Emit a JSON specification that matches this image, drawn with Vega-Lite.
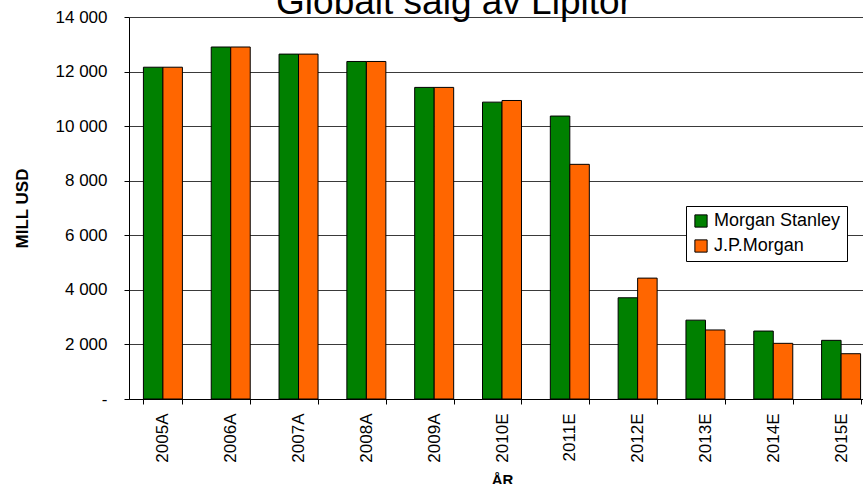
{
  "$schema": "https://vega.github.io/schema/vega-lite/v6.json",
  "width": 734,
  "height": 382,
  "autosize": {"type": "none"},
  "padding": {"left": 129, "top": 17, "right": 0, "bottom": 85},
  "title": {
    "text": "Globalt salg av Lipitor",
    "font": "Liberation Sans",
    "fontSize": 37,
    "fontWeight": "normal",
    "color": "#000",
    "anchor": "middle",
    "baseline": "alphabetic",
    "dx": -42,
    "offset": -43
  },
  "data": {
    "values": [
      {"year": "2005A", "series": "Morgan Stanley", "value": 12160},
      {"year": "2005A", "series": "J.P.Morgan", "value": 12160},
      {"year": "2006A", "series": "Morgan Stanley", "value": 12900},
      {"year": "2006A", "series": "J.P.Morgan", "value": 12900},
      {"year": "2007A", "series": "Morgan Stanley", "value": 12640},
      {"year": "2007A", "series": "J.P.Morgan", "value": 12640},
      {"year": "2008A", "series": "Morgan Stanley", "value": 12370},
      {"year": "2008A", "series": "J.P.Morgan", "value": 12370},
      {"year": "2009A", "series": "Morgan Stanley", "value": 11420},
      {"year": "2009A", "series": "J.P.Morgan", "value": 11420},
      {"year": "2010E", "series": "Morgan Stanley", "value": 10880},
      {"year": "2010E", "series": "J.P.Morgan", "value": 10940},
      {"year": "2011E", "series": "Morgan Stanley", "value": 10370},
      {"year": "2011E", "series": "J.P.Morgan", "value": 8600},
      {"year": "2012E", "series": "Morgan Stanley", "value": 3710},
      {"year": "2012E", "series": "J.P.Morgan", "value": 4430},
      {"year": "2013E", "series": "Morgan Stanley", "value": 2890},
      {"year": "2013E", "series": "J.P.Morgan", "value": 2530},
      {"year": "2014E", "series": "Morgan Stanley", "value": 2490},
      {"year": "2014E", "series": "J.P.Morgan", "value": 2040},
      {"year": "2015E", "series": "Morgan Stanley", "value": 2150},
      {"year": "2015E", "series": "J.P.Morgan", "value": 1660}
    ]
  },
  "mark": {"type": "bar", "stroke": "#000", "strokeWidth": 1},
  "encoding": {
    "x": {
      "field": "year",
      "type": "nominal",
      "sort": null,
      "title": "ÅR",
      "scale": {"paddingInner": 0.425, "paddingOuter": 0.2125, "range": [0, 746]},
      "axis": {
        "labelAngle": -90,
        "labelFontSize": 17,
        "labelPadding": 9,
        "tickBand": "extent",
        "tickSize": 5,
        "grid": false,
        "titleFontSize": 15,
        "titleFontWeight": "bold",
        "titleX": 373,
        "titleY": 85,
        "titleBaseline": "alphabetic"
      }
    },
    "xOffset": {"field": "series", "type": "nominal", "sort": ["Morgan Stanley", "J.P.Morgan"], "scale": {"paddingInner": 0, "paddingOuter": 0}},
    "y": {
      "field": "value",
      "type": "quantitative",
      "title": "MILL USD",
      "scale": {"domain": [0, 14000], "nice": false},
      "axis": {
        "values": [0, 2000, 4000, 6000, 8000, 10000, 12000, 14000],
        "labelExpr": "datum.value == 0 ? '-\u00a0\u00a0\u00a0\u00a0\u00a0' : replace(format(datum.value, ','), ',', ' ')",
        "labelFontSize": 17,
        "labelPadding": 17,
        "tickSize": 5,
        "grid": true,
        "gridColor": "#3a3a3a",
        "gridWidth": 1,
        "titleFontSize": 17,
        "titleFontWeight": "bold",
        "titleX": -102,
        "titleY": 191,
        "titleBaseline": "alphabetic"
      }
    },
    "color": {
      "field": "series",
      "type": "nominal",
      "sort": ["Morgan Stanley", "J.P.Morgan"],
      "scale": {"domain": ["Morgan Stanley", "J.P.Morgan"], "range": ["#008000", "#FF6600"]},
      "legend": {
        "title": null,
        "orient": "none",
        "legendX": 557,
        "legendY": 189,
        "symbolType": "square",
        "symbolSize": 150,
        "symbolStrokeColor": "#000",
        "symbolStrokeWidth": 1,
        "labelFontSize": 18,
        "labelOffset": 4,
        "rowPadding": 7,
        "padding": 6,
        "strokeColor": "#000",
        "fillColor": "#fff"
      }
    }
  },
  "config": {
    "font": "Liberation Sans",
    "view": {"stroke": null},
    "axis": {
      "domainColor": "#000",
      "tickColor": "#000",
      "labelColor": "#000",
      "titleColor": "#000",
      "labelFont": "Liberation Sans",
      "titleFont": "Liberation Sans"
    },
    "legend": {"labelColor": "#000", "labelFont": "Liberation Sans", "symbolOpacity": 1}
  }
}
